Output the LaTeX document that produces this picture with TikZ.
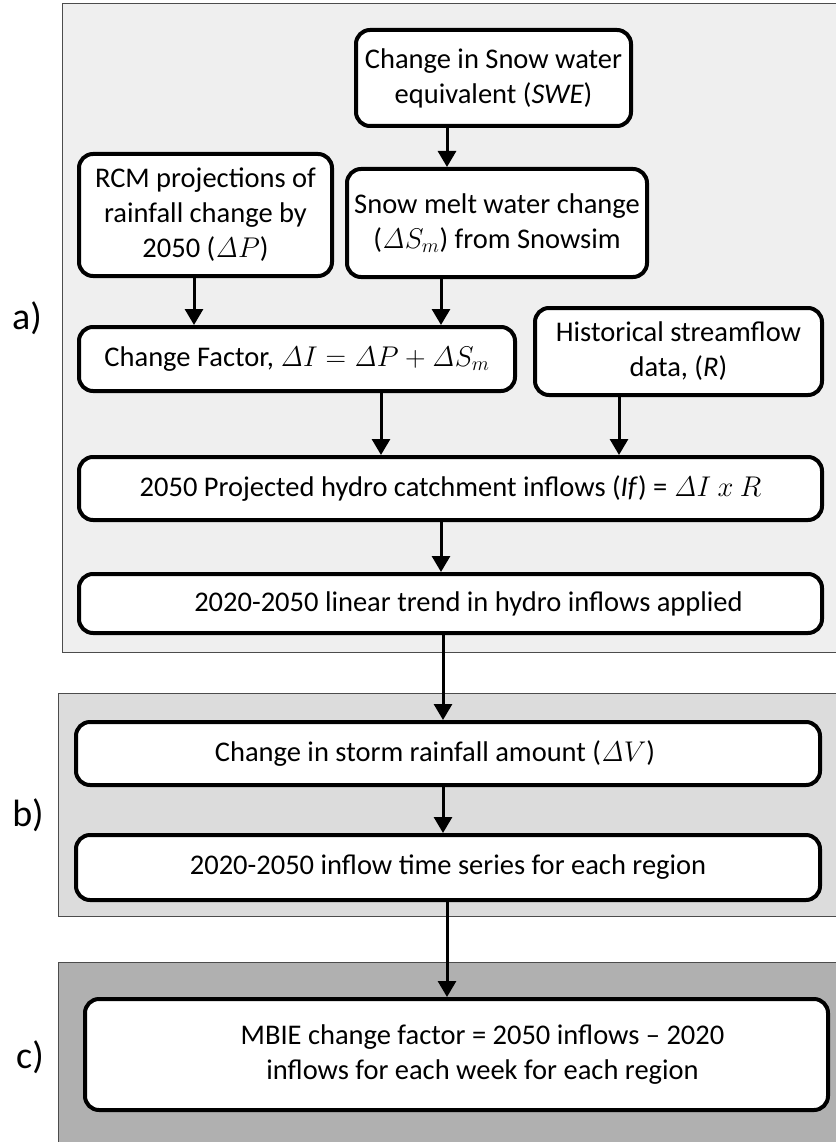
\RequirePackage{fix-cm}
\documentclass[tikz,border=0pt]{standalone}
\usepackage{amsmath}
\usepackage[no-math]{fontspec}
\setmainfont{Carlito}
\usetikzlibrary{arrows.meta}

\definecolor{panelA}{HTML}{EFEFEF}
\definecolor{panelB}{HTML}{DCDCDC}
\definecolor{panelC}{HTML}{B0B0B0}

\tikzset{
  flowbox/.style={draw=black, line width=4pt, rounded corners=14pt, fill=white,
    align=center, inner sep=0pt, font=\fontsize{28.5}{35}\selectfont},
  panel/.style={draw=black!70, line width=1pt},
  flowarrow/.style={-{Triangle[width=18pt,length=16pt]}, line width=3pt},
  tag/.style={font=\fontsize{38}{44}\selectfont},
}

\begin{document}
\begin{tikzpicture}[x=1pt,y=-1pt]
\useasboundingbox (0,0) rectangle (835,1142);

% panels
\filldraw[panel, fill=panelA] (62,4) rectangle (845,652);
\filldraw[panel, fill=panelB] (58,693) rectangle (845,916);
\filldraw[panel, fill=panelC] (58,962) rectangle (845,1150);

\node[tag] (taga) at (27,318) {a)};
\node[tag] (tagb) at (28,815) {b)};
\node[tag] (tagc) at (30,1057) {c)};

% a)
\node[flowbox, minimum width=275pt, minimum height=96pt] (swe) at (493.5,78)
  {Change in Snow water\\ equivalent (\textit{SWE})};
\node[flowbox, minimum width=253pt, minimum height=122pt] (rcm) at (205.5,215)
  {RCM projections of\\ rainfall change by\\ 2050 ($\mathit{\Delta}P$)};
\node[flowbox, minimum width=300pt, minimum height=108pt] (melt) at (497,223)
  {Snow melt water change\\ ($\mathit{\Delta}S_m$) from Snowsim};
\node[flowbox, minimum width=436pt, minimum height=64pt] (cf) at (297,359)
  {Change Factor, $\mathit{\Delta}I=\mathit{\Delta}P+\mathit{\Delta}S_m$};
\node[flowbox, minimum width=287pt, minimum height=87pt] (hist) at (678.5,351.5)
  {Historical streamflow\\ data, (\textit{R})};
\node[flowbox, minimum width=743pt, minimum height=63pt] (proj) at (450.5,488.5)
  {2050 Projected hydro catchment inflows (\textit{If}) = $\mathit{\Delta}I\ x\ R$};
\node[flowbox, minimum width=743pt, minimum height=59pt] (trend) at (450.5,603.5)
  {\hspace*{36pt}2020-2050 linear trend in hydro inflows applied};

% b)
\node[flowbox, minimum width=744pt, minimum height=63pt] (storm) at (448,753.5)
  {Change in storm rainfall amount ($\mathit{\Delta}V$)\hspace*{26pt}};
\node[flowbox, minimum width=744pt, minimum height=65pt] (series) at (448,867.5)
  {2020-2050 inflow time series for each region};

% c)
\node[flowbox, minimum width=743pt, minimum height=111pt] (mbie) at (456.5,1054.5)
  {\hspace*{52pt}MBIE change factor = 2050 inflows -- 2020\\
   \hspace*{52pt}inflows for each week for each region};

\draw[flowarrow] ([xshift=-46.5pt]swe.south) -- ([xshift=-46.5pt]swe.south |- melt.north);
\draw[flowarrow] ([xshift=-11.5pt]rcm.south) -- ([xshift=-11.5pt]rcm.south |- cf.north);
\draw[flowarrow] ([xshift=-56pt]melt.south) -- ([xshift=-56pt]melt.south |- cf.north);
\draw[flowarrow] ([xshift=84pt]cf.south) -- ([xshift=84pt]cf.south |- proj.north);
\draw[flowarrow] ([xshift=-59.5pt]hist.south) -- ([xshift=-59.5pt]hist.south |- proj.north);
\draw[flowarrow] ([xshift=-9.5pt]proj.south) -- ([xshift=-9.5pt]proj.south |- trend.north);
\draw[flowarrow] ([xshift=-7.5pt]trend.south) -- ([xshift=-7.5pt]trend.south |- storm.north);
\draw[flowarrow] ([xshift=-5pt]storm.south) -- ([xshift=-5pt]storm.south |- series.north);
\draw[flowarrow] ([xshift=-1pt]series.south) -- ([xshift=-1pt]series.south |- mbie.north);

\end{tikzpicture}
\end{document}
